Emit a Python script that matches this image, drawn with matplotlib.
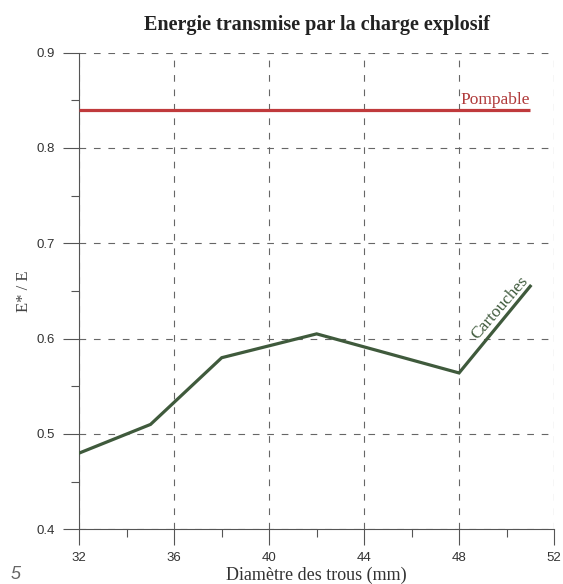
import matplotlib
matplotlib.use("Agg")
import matplotlib.pyplot as plt
from matplotlib.ticker import MultipleLocator

# data
diametre = [32, 35, 38, 42, 48, 51]
cartouches = [0.48, 0.51, 0.58, 0.605, 0.564, 0.655]
pompable_x = [32, 51]
pompable_y = [0.84, 0.84]

x_ticks = [32, 36, 40, 44, 48, 52]
y_ticks = [0.4, 0.5, 0.6, 0.7, 0.8, 0.9]

SERIF = ["Liberation Serif", "DejaVu Serif"]
SANS = ["Liberation Sans", "DejaVu Sans"]

fig = plt.figure(figsize=(5.63, 5.84), dpi=100)
ax = fig.add_axes([0.1409, 0.0937, 0.8431, 0.8161])

ax.plot(pompable_x, pompable_y, color="#c03a3c", lw=2.3, solid_capstyle="butt", zorder=3)
ax.plot(diametre, cartouches, color="#3f5a3c", lw=2.3, solid_joinstyle="miter", zorder=3)

ax.text(51.0, 0.842, "Pompable", color="#b03a3a", family=SERIF, fontsize=12.5,
        ha="right", va="bottom")
ax.text(49.7, 0.632, "Cartouches", color="#3f5a3c", family=SERIF, fontsize=12.5,
        ha="center", va="center", rotation=49, rotation_mode="anchor")

ax.set_xlim(32, 52)
ax.set_ylim(0.4, 0.9)
ax.set_xticks(x_ticks)
ax.set_yticks(y_ticks)
ax.set_xticklabels([str(t) for t in x_ticks], family=SANS)
ax.set_yticklabels([f"{t:.1f}" for t in y_ticks], family=SANS)
ax.xaxis.set_minor_locator(MultipleLocator(2))
ax.yaxis.set_minor_locator(MultipleLocator(0.05))

ax.tick_params(which="major", direction="out", length=11.5, width=0.8,
               color="#555555", labelsize=9.5, labelcolor="#333333")
ax.tick_params(axis="y", which="major", pad=6)
ax.tick_params(axis="x", which="major", pad=5)
ax.tick_params(which="minor", direction="out", length=5.5, width=0.8, color="#555555")

ax.grid(True, which="major", color="#666666", lw=0.8, linestyle=(0, (6, 7)))
ax.set_axisbelow(True)

for side in ["top", "right"]:
    ax.spines[side].set_visible(False)
for side in ["left", "bottom"]:
    ax.spines[side].set_color("#555555")
    ax.spines[side].set_linewidth(0.8)

ax.set_title("Energie transmise par la charge explosif", family=SERIF,
             fontweight="bold", fontsize=14.5, color="#222222", pad=16)
ax.set_xlabel("Diamètre des trous (mm)", family=SERIF, fontsize=13,
              color="#333333", labelpad=2)
ax.set_ylabel("E* / E", family=SERIF, fontsize=12, color="#444444", labelpad=3)

fig.text(0.018, 0.008, "5", family=SANS, fontstyle="italic", fontsize=13,
         color="#666666")

fig.savefig("out.png", dpi=100)
